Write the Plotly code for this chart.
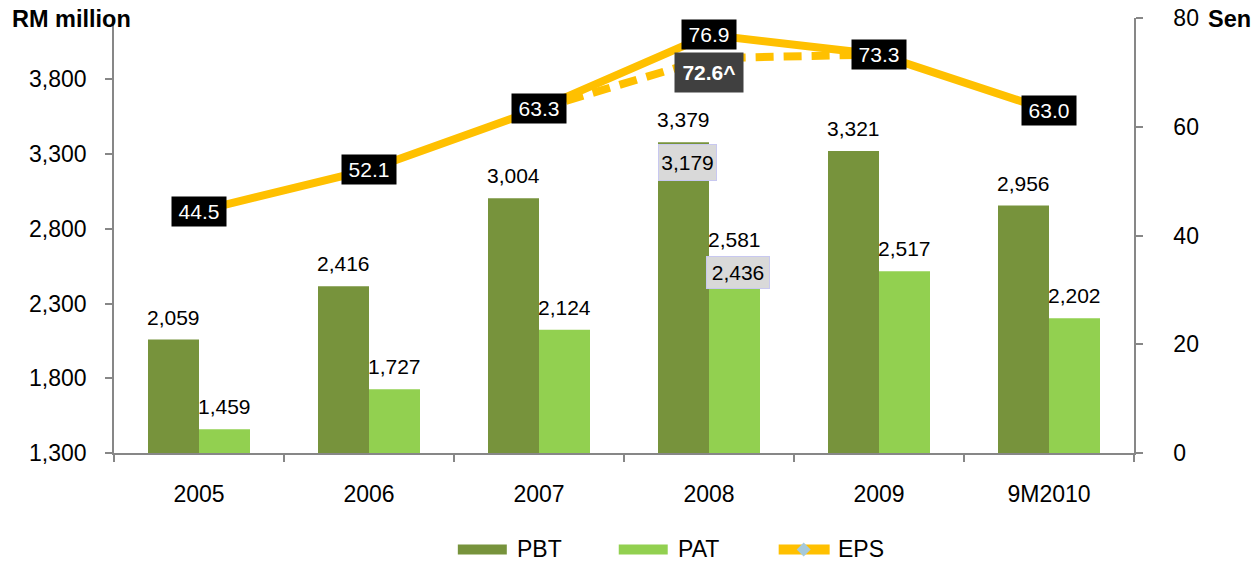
import plotly.graph_objects as go

categories = ["2005", "2006", "2007", "2008", "2009", "9M2010"]
pbt = [2059, 2416, 3004, 3379, 3321, 2956]
pat = [1459, 1727, 2124, 2581, 2517, 2202]
pbt_alt = [None, None, None, 3179, None, None]
pat_alt = [None, None, None, 2436, None, None]
eps = [44.5, 52.1, 63.3, 76.9, 73.3, 63.0]
eps_alt = [None, None, 63.3, 72.6, 73.3, None]
eps_alt_label = [None, None, None, "72.6^", None, None]
left_ticks = [1300, 1800, 2300, 2800, 3300, 3800]
right_ticks = [0, 20, 40, 60, 80]

C_PBT = "#77933C"
C_PAT = "#92D050"
C_EPS = "#FFC000"
C_AX = "#878787"
FONT = "Liberation Sans, Arial, sans-serif"

W, H = 1257, 562
L, R, T, B = 114, 1134.5, 18, 453.5


def px(xp):
    return (xp - L) / (R - L)


def py(yp):
    return (B - yp) / (B - T)


fig = go.Figure()
fig.add_trace(go.Bar(x=categories, y=pbt, name="PBT", marker=dict(color=C_PBT, line=dict(width=0)),
                     showlegend=False, yaxis="y"))
fig.add_trace(go.Bar(x=categories, y=pat, name="PAT", marker=dict(color=C_PAT, line=dict(width=0)),
                     showlegend=False, yaxis="y"))
fig.add_trace(go.Scatter(x=categories, y=eps_alt, mode="lines", yaxis="y2", showlegend=False,
                         line=dict(color=C_EPS, width=8, dash="18px,10px"), connectgaps=False))
fig.add_trace(go.Scatter(x=categories, y=eps, mode="lines", yaxis="y2", showlegend=False, name="EPS",
                         line=dict(color=C_EPS, width=8)))

ann = []
# bar labels (x as category index)
for i, v in enumerate(pbt):
    ann.append(dict(x=i, y=v, xref="x", yref="y", text=f"{v:,}", showarrow=False, yanchor="bottom",
                    xshift=-25.5, yshift=9, font=dict(size=21, color="#000", family=FONT)))
for i, v in enumerate(pat):
    ann.append(dict(x=i, y=v, xref="x", yref="y", text=f"{v:,}", showarrow=False, yanchor="bottom",
                    xshift=25.5, yshift=9, font=dict(size=21, color="#000", family=FONT)))
for i, (v, top) in enumerate(zip(pbt_alt, pbt)):
    if v is not None:
        ann.append(dict(x=i, y=top, xref="x", yref="y", text=f"{v:,}", showarrow=False, yanchor="top",
                        xshift=-22, yshift=-2, width=57, height=35, bgcolor="#D9D9D9",
                        bordercolor="#C8C8F0", borderwidth=1, borderpad=0,
                        font=dict(size=21, color="#000", family=FONT)))
for i, (v, top) in enumerate(zip(pat_alt, pat)):
    if v is not None:
        ann.append(dict(x=i, y=top, xref="x", yref="y", text=f"{v:,}", showarrow=False, yanchor="top",
                        xshift=29, yshift=6, width=62, height=31, bgcolor="#D9D9D9",
                        bordercolor="#C8C8F0", borderwidth=1, borderpad=0,
                        font=dict(size=21, color="#000", family=FONT)))
# EPS labels
for i, v in enumerate(eps):
    ann.append(dict(x=i, y=v, xref="x", yref="y2", text=f"{v:.1f}", showarrow=False,
                    width=54, height=29, bgcolor="#000000", borderpad=0,
                    font=dict(size=21, color="#FFFFFF", family=FONT)))
for i, (v, t) in enumerate(zip(eps_alt, eps_alt_label)):
    if t is not None:
        ann.append(dict(x=i, y=v, xref="x", yref="y2", text=f"<b>{t}</b>", showarrow=False,
                        yshift=-14, width=68, height=39, bgcolor="#404040", borderpad=0,
                        font=dict(size=21, color="#FFFFFF", family=FONT)))

# axis titles
ann.append(dict(x=px(10), y=py(19), xref="paper", yref="paper", text="<b>RM million</b>", showarrow=False,
                xanchor="left", yanchor="middle", font=dict(size=23.5, color="#000", family=FONT)))
ann.append(dict(x=px(1207), y=py(19), xref="paper", yref="paper", text="<b>Sen</b>", showarrow=False,
                xanchor="left", yanchor="middle", font=dict(size=23.5, color="#000", family=FONT)))

# custom legend
shapes = []
leg_y = 550
items = [("PBT", C_PBT, 458, 507, 515), ("PAT", C_PAT, 619, 668, 676), ("EPS", C_EPS, 779, 830, 836)]
for name, col, x0, x1, tx in items:
    shapes.append(dict(type="rect", xref="paper", yref="paper", x0=px(x0), x1=px(x1),
                       y0=py(leg_y + 5), y1=py(leg_y - 5), fillcolor=col, line=dict(width=0)))
    ann.append(dict(x=px(tx), y=py(leg_y), xref="paper", yref="paper", text=name, showarrow=False,
                    xanchor="left", yanchor="middle", font=dict(size=23, color="#000", family=FONT)))
# EPS diamond marker in legend
dx, dy = 804, 550
shapes.append(dict(type="path", xref="paper", yref="paper",
                   path=f"M {px(dx-7)} {py(dy)} L {px(dx)} {py(dy-7)} L {px(dx+7)} {py(dy)} L {px(dx)} {py(dy+7)} Z",
                   fillcolor="#A6C9DA", line=dict(width=0)))

fig.update_layout(
    width=W, height=H,
    margin=dict(l=L, r=W - R, t=T, b=H - B, autoexpand=False),
    paper_bgcolor="white", plot_bgcolor="white",
    barmode="group", bargap=0.4, bargroupgap=0,
    showlegend=False,
    font=dict(family=FONT, size=23, color="#000"),
    annotations=ann, shapes=shapes,
    xaxis=dict(type="category", categoryorder="array", categoryarray=categories, range=[-0.5, 5.5],
               showline=True, linecolor=C_AX, linewidth=1.5, ticks="outside", tickson="boundaries",
               ticklen=7, tickcolor=C_AX, tickwidth=1.5, showgrid=False, zeroline=False, automargin=False,
               ticklabelstandoff=20, tickfont=dict(size=23)),
    yaxis=dict(range=[1300, 4211], tickvals=left_ticks, tickformat=",", showline=True, linecolor=C_AX,
               linewidth=1.5, ticks="outside", ticklen=7, tickcolor=C_AX, tickwidth=1.5, showgrid=False,
               zeroline=False, automargin=False, ticklabelstandoff=14, tickfont=dict(size=23)),
    yaxis2=dict(range=[0, 80], tickvals=right_ticks, overlaying="y", side="right", showline=True,
                linecolor=C_AX, linewidth=1.5, ticks="outside", ticklen=7, tickcolor=C_AX, tickwidth=1.5,
                showgrid=False, zeroline=False, automargin=False, ticklabelstandoff=26,
                tickfont=dict(size=23)),
    # inner half of the crossing ticks on the right axis
    yaxis3=dict(range=[0, 80], tickvals=right_ticks, overlaying="y", side="right", anchor="x",
                showline=False, ticks="inside", ticklen=7, tickcolor=C_AX, tickwidth=1.5,
                showticklabels=False, showgrid=False, zeroline=False, automargin=False),
)

fig.write_html("out.html", config={"displayModeBar": False},
               post_script="document.body.style.margin='0';")
